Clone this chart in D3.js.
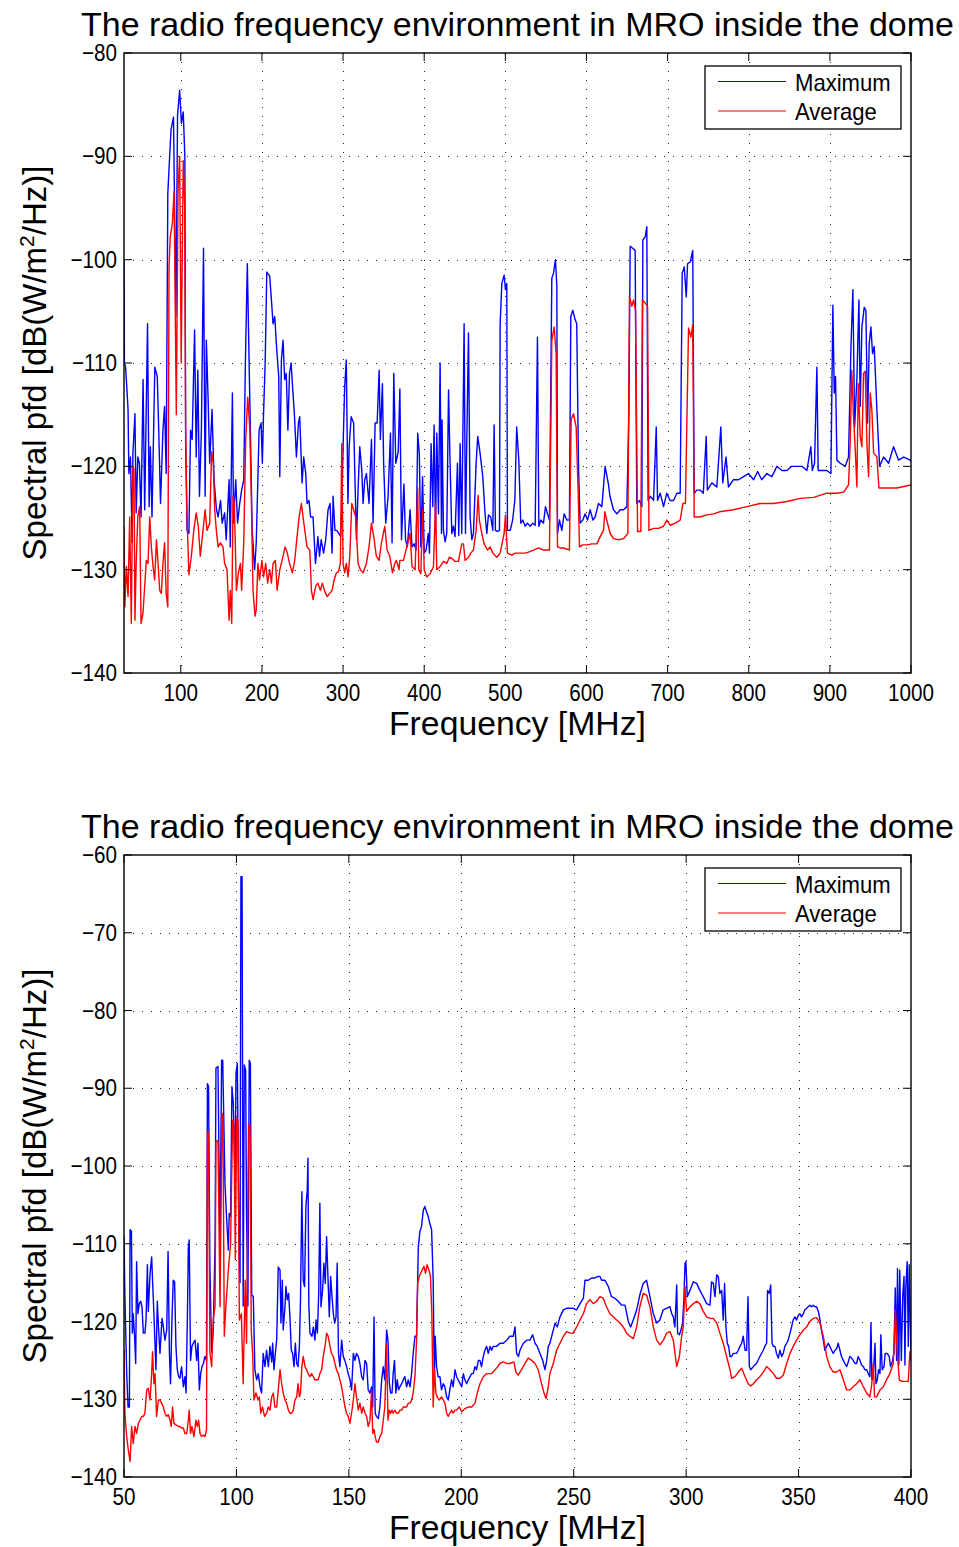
<!DOCTYPE html>
<html>
<head>
<meta charset="utf-8">
<script src="https://cdn.jsdelivr.net/npm/d3@7"></script>
<style>
body{margin:0;background:#fff;}
svg text{font-family:"Liberation Sans",Arial,sans-serif;fill:#000;}
</style>
</head>
<body>
<svg id="chart" width="959" height="1547"></svg>
<script>
// ---- data: [frequency MHz, spectral pfd dB] ----
var titleText = "The radio frequency environment in MRO inside the dome";
var seriesNames = ["Maximum", "Average"];

var topXTicks = [100, 200, 300, 400, 500, 600, 700, 800, 900, 1000];
var topYTicks = [-140, -130, -120, -110, -100, -90, -80];
var botXTicks = [50, 100, 150, 200, 250, 300, 350, 400];
var botYTicks = [-140, -130, -120, -110, -100, -90, -80, -70, -60];

var topMax = [[30,-100],[30.5,-110],[32,-110.4],[35,-114.5],[36,-120.7],[38,-119.1],[40,-127.4],[41,-118.7],[43.5,-114.9],[45,-124.5],[47,-119.1],[49,-119.7],[51,-124.9],[53.5,-111.6],[55.5,-124.2],[59,-106.2],[61,-123.9],[62.5,-118.1],[64.5,-124.9],[68,-110.4],[71,-111.3],[73,-117.1],[75,-123.6],[78,-116.5],[80,-114.2],[82,-120.7],[84,-93.6],[86,-90.4],[88,-87.4],[91,-86.2],[94,-105.5],[96,-86],[98.6,-83.6],[100.7,-86.8],[103,-85.7],[105,-90],[106,-117.8],[107.7,-126.2],[110,-126.5],[112,-116.5],[114,-117.4],[117,-106.8],[119,-119.1],[121,-110.7],[123,-122.9],[125.4,-116.5],[128,-98.9],[130,-122.9],[131.5,-107.8],[133.6,-113.3],[135.6,-119.7],[138.5,-114.5],[141,-121.3],[144,-124.2],[146,-124.9],[149,-123.3],[151,-125.5],[154,-124.5],[156,-127.1],[159.5,-121.3],[161,-127.8],[163.6,-112.9],[165,-125.5],[167.7,-121.3],[170,-125.5],[172.6,-123.6],[175,-122.3],[177.6,-121.3],[179.6,-110],[182,-100.4],[185,-113.3],[188,-126.2],[191,-130],[193,-127.4],[196.5,-116.5],[199,-115.8],[200.5,-119.7],[202,-114.9],[204,-110],[206,-101.2],[209.6,-101.6],[211.7,-103.9],[213.7,-106.2],[215.8,-105.5],[218,-108.4],[220.7,-111.3],[222,-121],[224,-109.7],[226,-107.8],[228,-111.6],[230,-111],[232,-116.5],[234,-111],[236,-110],[238,-112.6],[240,-114.9],[242.5,-119.1],[245,-115.8],[246.6,-115.2],[249.5,-121.6],[251.5,-119.1],[254,-120.7],[255.6,-123.6],[258,-123.3],[260,-124.9],[263,-124.9],[266,-129.4],[269,-126.8],[271,-128.7],[273,-127.1],[276,-128.4],[278.6,-127.1],[281.5,-124.2],[284,-123.6],[286.5,-128.4],[287.7,-122.9],[290,-126.2],[292,-126.2],[295,-126.5],[297,-126.8],[298.5,-123.9],[300,-118.1],[302,-112.3],[304,-109.7],[306,-123.6],[307.5,-118.1],[310,-115.2],[313,-115.8],[316.5,-127.1],[318.5,-122.3],[320.6,-118.1],[323,-120.3],[324.7,-123.6],[326.7,-121.3],[328.8,-120.7],[332,-123.6],[335,-117.4],[337,-125.5],[339.5,-115.8],[342,-115.8],[344.5,-110.7],[346,-117.4],[348.5,-112],[350,-119.7],[352.6,-125.5],[355.5,-122.9],[358.4,-116.8],[360.4,-127.4],[362.5,-111],[365,-119.7],[368,-118.6],[370,-112.5],[372,-127.1],[375,-121.7],[377,-127.1],[379.3,-127.8],[382.6,-124.2],[385,-127.8],[387.6,-127.5],[390,-128.1],[392,-116.8],[394,-118.8],[395.8,-127.8],[398,-121],[400,-128.4],[402.4,-128.1],[405,-126.5],[406.5,-128.4],[408.5,-117.8],[410.6,-123.9],[412.2,-116],[414,-126.5],[415.5,-116.8],[417.6,-124.6],[419.6,-110],[421.3,-126.5],[422,-115.5],[423.7,-126.2],[425.8,-127.3],[427.8,-126.5],[430,-112.6],[432,-120],[434,-126.5],[436,-125.8],[438,-126.8],[441,-119.7],[442.6,-126.7],[444.3,-117.8],[446.3,-126.5],[449.2,-106.2],[450.9,-126.5],[452.5,-117.5],[454.6,-107.1],[456.6,-124.9],[458.7,-127.1],[460.7,-126.5],[464,-119.7],[466,-117.1],[469,-118.8],[472.2,-121],[475,-124.6],[477.2,-126.5],[479.2,-124.7],[482,-124.9],[484.6,-126.2],[486.2,-116],[487.8,-126.2],[490.3,-126.3],[492.8,-126.2],[493.6,-106.2],[495.7,-102.3],[498.5,-101.5],[500.2,-102.9],[501.8,-102.3],[502.6,-126.2],[506,-126.2],[509,-125.2],[511.7,-123.3],[514,-116.2],[516.6,-119.4],[519,-125.5],[521.5,-125.2],[524.4,-125.8],[527.3,-125.5],[530.6,-125.8],[533.9,-125.5],[536.8,-125.7],[539.6,-107.5],[541.3,-125.8],[543.7,-125.2],[547,-125.5],[549.5,-123.9],[552,-124.6],[554.4,-125.2],[557.3,-101.8],[559.4,-101.3],[561.8,-100],[563.5,-102.6],[564.3,-126.5],[566.8,-125.2],[569.6,-126.2],[572.5,-124.6],[575.8,-125.2],[579,-125.2],[580.7,-105.5],[583.2,-104.9],[586,-105.8],[588,-106.2],[590.2,-120],[592.2,-125.5],[595.5,-125.2],[598.4,-124.6],[601.3,-125.2],[604.6,-124.2],[607.9,-125.2],[610.7,-124.9],[614.8,-123.6],[619,-123.9],[623,-120],[627,-121.7],[629,-122.9],[633.3,-124.2],[637.5,-124.6],[641.6,-124.2],[645.7,-124.2],[649.8,-123.9],[652.2,-115.2],[653.9,-98.7],[657,-98.9],[660,-99.1],[662,-123.6],[665.4,-123.3],[668.3,-123.9],[669.5,-98.1],[672.4,-97.8],[674.4,-96.8],[676,-123.3],[678.6,-122.9],[682.7,-123.3],[686,-116.2],[687.6,-123.3],[690.9,-122.6],[695,-123.9],[699,-122.6],[703,-123.3],[707.3,-123.3],[711.4,-122.6],[715.5,-122.6],[718,-101.3],[720.5,-100.7],[723,-103.6],[724.6,-100.4],[728,-100.2],[731,-99.1],[732.8,-122.6],[736,-122.3],[740,-122.3],[744,-122.6],[747.6,-117.1],[749,-122.3],[754.5,-121.6],[760.7,-122],[765.6,-116.2],[768,-121.6],[772,-119.1],[775,-122],[781,-121.3],[787.4,-121.3],[793.6,-121],[799.8,-120.7],[806,-121.3],[811,-120.5],[816,-121.3],[822.4,-120.7],[828.5,-121],[834.7,-120],[840.9,-120.4],[847,-120.4],[853,-120],[859.3,-120],[865.5,-120],[871.7,-120.4],[876.6,-118.1],[878.3,-120.4],[881.1,-119.7],[884,-110.4],[885.6,-120.4],[890,-120.4],[896.3,-120.4],[901.3,-120.7],[903.7,-104.4],[905.4,-112.9],[907,-111.3],[908.7,-119.4],[912.8,-119.7],[919,-120],[923,-119.1],[926,-108.4],[928.4,-102.9],[930.5,-116.2],[933.3,-111.6],[935.8,-103.9],[937.4,-114.2],[939.5,-106.5],[942.4,-104.6],[944.4,-104.9],[946.5,-115.8],[948.5,-108.1],[950.6,-106.5],[952.6,-109.1],[954.7,-108.4],[958,-114.6],[961.3,-120],[966.2,-119.1],[972.4,-119.7],[978.5,-118.1],[984.7,-119.4],[990.9,-119.1],[999,-119.4],[1000,-119.6]];

var topAvg = [[30,-125.8],[31,-133.6],[33,-129.7],[35,-132.6],[37,-124.9],[39,-135.2],[41,-120],[42.3,-120.3],[43.5,-134.9],[45,-129.4],[47,-124.9],[49.3,-123.9],[51,-135.2],[53.4,-134.2],[56,-131],[57.5,-129.1],[59.6,-129.4],[61.7,-124.9],[63.7,-127.8],[65.8,-129.7],[67.8,-131],[70,-127.1],[72,-129.4],[74,-132],[76,-132.3],[78,-129.4],[80,-127.4],[82,-132.3],[84,-133.6],[85.5,-100.7],[87,-97.8],[89.6,-96.5],[91.7,-93.4],[94.5,-115],[96.6,-93.3],[98.6,-90],[100.5,-110],[103,-90.4],[104.8,-94.7],[106,-116.5],[107.7,-124.9],[110,-130.5],[113,-128.7],[116,-126.2],[119,-124.5],[121.6,-125.8],[124,-128.7],[127.4,-126.2],[130,-124.2],[132.3,-126.2],[135.6,-125.5],[138,-118.6],[140,-119.7],[141.8,-124.2],[143.8,-126.2],[146,-127.8],[148.8,-127.4],[152,-127.8],[154,-129.4],[157,-130],[159.5,-134.9],[161,-132],[162.8,-135.2],[164.4,-122.9],[166,-123.6],[168.5,-132],[171,-130.3],[173.5,-129.4],[175,-132],[177.6,-127.4],[180,-117.4],[182.5,-113.3],[185,-116.2],[187,-123.3],[189,-132],[191.5,-134.5],[193,-133.9],[195,-129.4],[197,-131],[200,-129.1],[202,-130.7],[204.7,-129.4],[207,-131.3],[209.6,-130],[211.7,-131.3],[213.7,-129.4],[216.6,-129.1],[218.7,-132],[222,-130],[224.8,-129.1],[226.9,-128.4],[228.5,-127.8],[231,-128.3],[234,-129.4],[237.6,-130.3],[240.4,-129.1],[243.3,-126.8],[245.8,-124.9],[248.7,-123.6],[250.7,-124.9],[252.8,-126.2],[255.6,-127.8],[259,-128.1],[261,-132],[263,-132.9],[266.3,-131.6],[269,-131.3],[272,-132],[274.5,-131.3],[277.4,-132.1],[280.3,-132.6],[283.6,-132.3],[286.5,-132],[289,-131],[291.8,-130.3],[294.3,-130.2],[296.7,-129.4],[298.4,-117.8],[300,-129.4],[302,-130.3],[304,-129.4],[306.2,-130.7],[308.3,-128.7],[310.7,-123.6],[313,-124.2],[315.6,-124.9],[318.5,-129.4],[321.4,-130],[324.7,-130.3],[328.8,-129.4],[332,-127.8],[335,-125.5],[337.8,-126.8],[341,-128.7],[344.4,-129.1],[347.3,-127.4],[351.4,-125.8],[354.3,-128.1],[357.6,-128.7],[360.9,-130.3],[363.7,-129.4],[365.8,-129.1],[369,-130],[370,-129.1],[374.4,-129.1],[378.5,-127.8],[382.6,-126.5],[385,-129.7],[388.8,-130],[392,-122.1],[393.3,-130],[395.8,-130.4],[398.2,-124.2],[400,-130],[403,-130.7],[407.3,-130.4],[411.4,-129.7],[414,-123.6],[415.5,-130],[419.6,-129.7],[423.7,-129.2],[427.8,-129.4],[431,-128.8],[434,-128.9],[438,-129.2],[442.2,-129.2],[446.3,-127.5],[448.4,-127.5],[450.4,-129.1],[454.6,-128.8],[457.4,-128.4],[460.7,-128.1],[464,-126.2],[466.5,-122.8],[468,-125.2],[471,-126.5],[473.9,-127.5],[478,-128.1],[481.3,-127.8],[484.6,-128.4],[489.5,-128.8],[493.6,-128.4],[498.5,-126.5],[500.2,-124.7],[502.6,-128.4],[508,-128.6],[512.1,-128.4],[518.3,-128.4],[524.4,-128.4],[528.5,-128.3],[534.7,-128.1],[540.9,-127.9],[547,-128.1],[554.4,-128.1],[557.3,-107.8],[560.2,-106.5],[562.6,-109.1],[564.3,-127.8],[567.6,-127.9],[571.7,-127.9],[579,-128.1],[581.1,-115.5],[584,-114.9],[587.3,-116.2],[589.8,-122.6],[591.4,-127.8],[595.5,-127.6],[600.5,-127.6],[606.6,-127.5],[612.8,-127.5],[616.9,-126.8],[621,-126.2],[622.7,-124.4],[625,-125.2],[629.2,-126.5],[633.3,-127],[639.5,-127.1],[645.7,-127],[651,-126.5],[653,-103.6],[656,-104.5],[658,-103.9],[660.5,-104.9],[663,-126.3],[667,-126.3],[669,-103.9],[672.4,-104.2],[675.3,-104.5],[677,-126.2],[682.7,-126],[688.8,-126],[695,-125.8],[699,-125.2],[703.2,-125.7],[709.4,-125.5],[715.5,-125.2],[718.8,-123.6],[722,-123.6],[725.8,-106.6],[728.7,-107.5],[731,-106.3],[732.8,-124.9],[740,-124.9],[748.4,-124.7],[756.6,-124.6],[764,-124.4],[781,-124.2],[797.7,-123.9],[814,-123.6],[830.6,-123.6],[847,-123.4],[863.5,-123.1],[880,-123],[896.3,-122.6],[908.7,-122.6],[917,-122.5],[923,-121.8],[925,-117.8],[927,-110.7],[929,-114.9],[931.3,-118.4],[933.3,-122],[935,-112],[937.4,-117.1],[939.5,-118.1],[941.5,-111],[943.6,-110.8],[945.7,-117.8],[947.7,-121],[949.8,-112.9],[951.8,-114.6],[953.9,-118.7],[958,-119.1],[960.5,-122.1],[970.3,-122.1],[982.7,-122.1],[1000,-121.8]];

var botMax = [[50,-109.1],[50.4,-116.8],[51.2,-126.7],[51.8,-131],[52.4,-131],[52.7,-108.2],[53.3,-108.4],[53.7,-121.5],[54.1,-119],[54.7,-121.9],[55.2,-125.4],[55.6,-112.3],[56.2,-119],[56.8,-117.7],[57.4,-117.4],[58,-118.1],[58.6,-121.5],[59.3,-121.5],[59.8,-119.8],[60.4,-112.7],[60.8,-118.7],[61.6,-113.8],[62.3,-111.7],[62.7,-114.7],[63.3,-119],[64.2,-126.2],[64.8,-117.4],[65.4,-121.1],[66,-124.1],[66.9,-119.6],[67.5,-120.7],[68.2,-122.4],[69,-121.1],[69.6,-111],[70.2,-124.1],[70.7,-128],[71.3,-120],[71.9,-114.7],[72.5,-114.9],[73.1,-123.2],[73.7,-126.2],[74.3,-127.1],[74.9,-127.3],[75.6,-125.8],[76.4,-128.4],[77.1,-127.1],[77.6,-129.2],[78.2,-119.4],[78.6,-110.6],[79,-109.5],[79.6,-125],[80.2,-123.2],[80.8,-122.8],[81.6,-122.4],[82.3,-125],[82.9,-122.8],[83.5,-128.8],[84.1,-126.7],[84.7,-125.8],[85.3,-125.4],[86,-124.5],[86.7,-125],[87.1,-89.4],[87.6,-89.8],[88.2,-113],[89,-124],[89.7,-121],[90.5,-110],[90.9,-87.4],[91.8,-87.2],[92.7,-110.8],[93.4,-86.4],[93.9,-86.4],[94.9,-102.2],[95.6,-106.5],[96.4,-110.8],[96.8,-106.1],[97.4,-106.5],[98,-89.8],[98.6,-91.9],[99.4,-102.2],[99.8,-88.1],[100.4,-86.8],[101,-106.5],[101.6,-115],[102,-62.8],[102.5,-62.8],[103,-118],[103.5,-87],[104.1,-87.7],[104.5,-106.5],[105.1,-118],[105.7,-86.4],[106.2,-86.8],[106.8,-116.6],[107.5,-116.8],[108.2,-126.2],[109,-127.5],[109.7,-126.7],[110.5,-128.4],[111.2,-129.2],[111.9,-124.1],[112.7,-125.8],[113.4,-123.7],[114.2,-125.8],[114.9,-123.2],[115.7,-125.2],[116.1,-122.8],[116.7,-126.2],[117.3,-124.1],[117.9,-122.4],[118.6,-113],[119.4,-113.4],[119.8,-120.2],[120.4,-114.7],[120.8,-121.1],[121.6,-118.1],[122,-115.5],[122.6,-117.2],[123.2,-116.4],[123.8,-119.4],[124.4,-123.7],[125,-124.1],[125.6,-125.8],[126.2,-122.8],[126.8,-125.4],[127.4,-125.8],[128,-123.2],[128.5,-117.2],[129.1,-103.3],[129.7,-114.7],[130.3,-115.5],[130.9,-105.2],[131.5,-103.1],[131.8,-99],[132.2,-118],[132.7,-121.5],[133.6,-121.9],[134.2,-120.7],[134.9,-122.4],[135.4,-119.8],[136,-121.5],[136.6,-116.4],[137.1,-104.8],[137.6,-118.1],[138.3,-116],[138.9,-112.5],[139.5,-115.1],[140.1,-109.1],[140.7,-114.2],[141.3,-119.4],[141.9,-114.2],[142.5,-116.8],[143.1,-119],[143.7,-120.2],[144.3,-119.4],[144.8,-112.5],[145.4,-124.1],[146,-125.8],[146.8,-122.4],[147.5,-124.5],[148.2,-125],[149,-125.8],[149.7,-126.7],[150.5,-127.5],[151.2,-128.8],[152,-124.1],[152.7,-125],[153.4,-124.1],[154.2,-124.5],[154.9,-125.4],[155.7,-127.1],[156.4,-127.5],[157.2,-125],[157.9,-125.4],[158.6,-128.8],[159.4,-129.2],[160.1,-128.4],[160.6,-131],[161.2,-119.4],[161.7,-131.8],[162.3,-132.2],[163.1,-132.5],[163.8,-131],[164.6,-127.5],[165.3,-125.8],[166,-127.5],[166.8,-121.1],[167.4,-122.4],[168,-128],[168.6,-129.2],[169.2,-129.2],[169.7,-126.7],[170.3,-125],[170.9,-129.2],[171.5,-127.5],[172.1,-128.8],[172.7,-128.4],[173.5,-128],[174.2,-127.5],[174.9,-127.1],[175.7,-128.4],[176.4,-127.5],[177.2,-128.4],[177.9,-126.7],[178.6,-124.1],[179.4,-121.9],[180.1,-121.9],[180.9,-110.4],[181.6,-108.4],[182.3,-107.8],[183.1,-105.7],[183.8,-105.2],[184.5,-105.9],[185.3,-106.5],[186,-107.4],[186.8,-108.2],[187.5,-114.7],[188,-127.5],[188.4,-121.9],[189,-125.8],[189.7,-127.1],[190.5,-127.1],[191.2,-128.8],[192,-128],[192.7,-128.4],[193.5,-129.7],[194.2,-130.1],[194.9,-128.8],[195.7,-127.5],[196.4,-128.4],[197.2,-126.2],[197.9,-127.1],[200.2,-128.4],[200.9,-126.7],[201.6,-127.5],[202.4,-128],[203.1,-127.5],[203.9,-127.1],[204.6,-126.7],[205.3,-126.7],[206.1,-125.8],[206.8,-126.2],[207.6,-125],[208.3,-125],[209,-125.8],[209.8,-124.5],[210.5,-123.7],[211.3,-123.2],[212,-124.1],[212.8,-123.2],[213.5,-123.7],[214.2,-123.2],[215.7,-123.2],[217.2,-122.8],[218.7,-122.8],[220.2,-122.4],[221.6,-121.9],[223.1,-121.9],[223.9,-120.7],[224.6,-124.1],[225.4,-124.5],[226.1,-123.7],[227.6,-122.8],[229.1,-122.4],[230.5,-122.4],[231.7,-121.7],[232.8,-122.8],[233.8,-123.2],[235,-124.1],[236.2,-125],[237.2,-126.2],[238,-125],[238.7,-123.2],[239.4,-122.8],[240.9,-121.1],[241.7,-120.2],[242.7,-120.7],[243.9,-119.4],[245.4,-118.5],[246.8,-118.3],[248.3,-118.3],[249.8,-118.3],[251.3,-118.5],[252.8,-117.7],[254.3,-117],[255,-114.7],[256.5,-114.7],[258,-114.4],[259.4,-114.4],[260.9,-114.2],[261.7,-114.2],[262.4,-114.7],[263.9,-114.7],[265.4,-115.5],[266.8,-116.8],[268.3,-117],[269.8,-117.4],[271.3,-117.9],[272.8,-117.9],[274.3,-120],[275.3,-120.7],[276.5,-119.8],[278,-118.5],[279.4,-116.6],[280.9,-115.1],[282.4,-114.7],[283.9,-116.8],[285.4,-119],[286.9,-120.2],[288.3,-119.8],[289.8,-118.5],[291.3,-118.3],[292.8,-118.1],[293.6,-119],[294.3,-119.4],[295,-120.7],[295.8,-115.3],[296.2,-121.5],[297,-121.7],[297.7,-121.1],[298.4,-120.2],[299,-117.2],[299.5,-112.5],[299.9,-112.3],[300.5,-116.8],[301.7,-116],[303.2,-114.9],[304.7,-115.1],[306.1,-116],[307.6,-116.8],[309.1,-117.7],[310.6,-117.9],[311.3,-114.9],[312.1,-115.1],[312.8,-116.8],[313.6,-114],[314.3,-114.2],[315,-116.4],[315.8,-116],[316.5,-119.8],[317.1,-115.1],[317.7,-120.7],[318.3,-122.8],[318.9,-123.2],[319.5,-124.5],[320.2,-124.5],[321,-124.1],[321.7,-124.1],[322.4,-124.1],[323.2,-123.7],[323.9,-123.2],[324.7,-122.8],[325.4,-121.9],[326.2,-123.7],[326.9,-123.7],[327.5,-116.8],[328.1,-125.8],[328.7,-126.2],[329.9,-125.8],[331.3,-125.4],[332.8,-124.5],[334.3,-123.7],[335,-123.2],[335.8,-122.8],[336.2,-116],[337,-116.4],[337.6,-115.3],[338.2,-122.8],[338.8,-123.2],[339.5,-123.2],[340.2,-124.1],[341,-124.7],[341.7,-123.7],[342.5,-124.5],[343.2,-124.1],[343.9,-123.2],[344.7,-122.8],[345.4,-122.4],[346.2,-121.5],[346.9,-120.7],[347.6,-119.8],[348.4,-119.4],[349.1,-119.8],[349.9,-119.2],[350.6,-119],[351.3,-119.4],[352.1,-119],[352.8,-118.5],[353.6,-118.3],[354.3,-118.1],[355,-117.9],[355.8,-118.1],[356.5,-117.9],[357.3,-118.1],[358,-118.1],[358.8,-118.7],[359.5,-119.8],[360.2,-121.1],[361,-122.4],[361.7,-123.7],[362.5,-123.2],[363.2,-122.8],[363.9,-123.2],[364.7,-123.7],[365.4,-124.1],[366.2,-123.7],[366.9,-123.5],[367.6,-122.8],[368.4,-123.7],[369.1,-124.5],[369.9,-125],[370.6,-125.4],[371.4,-125.8],[372.1,-125.2],[372.8,-124.5],[373.6,-124.7],[374.3,-125],[375.1,-125.4],[375.8,-125.4],[376.5,-124.5],[377.3,-125],[378,-125.6],[378.8,-125.8],[379.5,-126.2],[380.3,-126.2],[381,-126.7],[381.7,-127.1],[382.2,-120.2],[382.6,-127.5],[383.2,-127.1],[384,-122.8],[384.4,-128],[385,-127.5],[385.6,-126.2],[386.2,-126.7],[386.6,-121.7],[387.2,-126.2],[388,-125.8],[388.5,-124.1],[389.4,-124.1],[390.3,-124.5],[390.9,-125.8],[391.8,-125],[392.4,-124.1],[393,-115.7],[393.6,-125],[394,-113.2],[394.6,-125.6],[395,-113.4],[395.7,-125],[396.3,-116.8],[396.9,-114.2],[397.3,-125.6],[397.7,-115.5],[398.3,-112.3],[398.8,-123.2],[399.2,-112.7],[399.8,-121.9],[400,-124]];

var botAvg = [[50,-123.7],[50.4,-131.8],[51.2,-134.8],[51.9,-136.5],[52.7,-138],[53.4,-133.5],[54.1,-135.7],[54.9,-133.5],[55.6,-134.4],[56.4,-133.1],[57.1,-132.7],[57.9,-132.2],[58.6,-132.2],[59.3,-131.8],[60.1,-128.8],[60.8,-128.6],[61.6,-130.1],[62.3,-126.7],[62.7,-123.9],[63.3,-128],[63.8,-126.7],[64.5,-132.2],[65.3,-130.1],[66,-130.1],[66.7,-130.5],[67.5,-131],[68.2,-131.8],[69,-132.2],[69.7,-132],[70.5,-132.7],[71,-133.5],[71.6,-131],[72.2,-133.1],[73.1,-133.3],[74.2,-133.5],[74.9,-133.5],[75.6,-133.7],[76.4,-133.7],[77.1,-134.4],[77.9,-134.4],[78.6,-132.7],[79,-131.4],[79.6,-134.4],[80.2,-133.5],[81.1,-134.8],[82,-132.7],[82.6,-133.5],[83.2,-132.7],[83.8,-134.4],[84.5,-134.8],[85.3,-134.6],[86,-134.8],[86.7,-133.9],[87.1,-95.6],[87.6,-95.8],[88.2,-124],[89,-125.8],[89.7,-119.8],[90.5,-118],[90.9,-96.9],[91.8,-96.7],[92.7,-118.1],[93.6,-93.2],[94,-93.7],[94.6,-121.9],[95.3,-118.1],[96.4,-113.4],[97.4,-110],[98.3,-94.1],[98.9,-94.5],[99.5,-112],[100.1,-93.9],[100.7,-94.1],[101.3,-119.8],[102.2,-119],[103,-128],[103.9,-114.7],[104.5,-122.8],[105.4,-94.7],[106,-94.7],[106.6,-121.1],[107.2,-124.1],[107.8,-130.1],[108.7,-129.2],[109.6,-130.1],[110.2,-129.7],[110.8,-131.8],[111.6,-131],[112.5,-132.2],[113.4,-131.8],[114.2,-131],[114.9,-131.4],[115.7,-129.7],[116.4,-129.2],[117.1,-131],[117.9,-131],[118.6,-128.8],[119.4,-126.2],[120.1,-128],[120.8,-129.2],[121.6,-130.1],[122.3,-130.5],[123.1,-131.4],[123.8,-131.8],[124.5,-131.8],[125.3,-131.4],[126,-130.1],[126.8,-129.7],[127.4,-128],[128,-129.7],[128.5,-129.2],[129.1,-125.8],[129.7,-124.5],[130.5,-125.8],[131.2,-126.2],[131.9,-126.7],[132.7,-127.1],[133.4,-126.7],[134.2,-127.1],[134.9,-127.5],[135.7,-127.5],[136.4,-127.5],[137.1,-126.7],[137.9,-126.2],[138.6,-124.5],[139.4,-123.2],[140.1,-121.5],[140.8,-121.9],[141.6,-123.2],[142.3,-124.1],[143.1,-124.5],[143.8,-125.4],[144.5,-126.2],[145.3,-126.7],[146,-127.5],[146.8,-128.4],[147.5,-129.7],[148.3,-131],[149,-131.8],[149.7,-132.2],[150.5,-133.1],[151.2,-131.8],[152,-130.1],[152.7,-128],[153.4,-129.7],[154.2,-131.4],[154.9,-130.5],[155.7,-131.8],[156.4,-131],[157.2,-131.8],[157.9,-132.2],[158.6,-133.5],[159.4,-132.7],[160.1,-128.8],[160.6,-134.4],[161.2,-133.9],[161.7,-134.8],[162.3,-135.5],[163.1,-135.5],[163.8,-134.8],[164.6,-134.4],[165.3,-132.7],[166,-131],[166.8,-123],[167.4,-132.7],[168,-131.4],[168.6,-131.8],[169.2,-131.4],[169.7,-131.8],[170.5,-131.4],[171.2,-131.8],[172,-131.8],[172.7,-131.4],[173.5,-131.4],[174.2,-131],[174.9,-131],[175.7,-131],[176.4,-130.5],[177.2,-130.5],[177.9,-130.1],[178.6,-129.2],[179.4,-127.1],[180.1,-122.4],[180.6,-115.1],[181.3,-114.2],[181.9,-113.8],[182.6,-113.4],[183.4,-112.9],[184.1,-113.8],[184.8,-112.7],[185.6,-113.4],[186.3,-114.2],[186.9,-119],[187.5,-131],[188.1,-126.2],[188.7,-129.2],[189.3,-129.7],[190.2,-130.1],[191.2,-129.7],[192,-130.1],[192.7,-130.5],[193.5,-131.8],[194.2,-132.2],[194.9,-131.8],[195.7,-131.4],[196.4,-131.8],[197.2,-131.4],[197.9,-131.4],[199.1,-131],[200.2,-131.6],[201.6,-131.2],[203.1,-131],[204.6,-131],[206.1,-130.5],[207.1,-129.2],[208.3,-128],[209.8,-127.1],[211.3,-126.7],[213.5,-126.7],[215.7,-126],[217.2,-125.4],[218.7,-125.2],[220.2,-125.4],[221.6,-125.4],[223.4,-125.2],[224.3,-126.5],[225.3,-126.9],[226.8,-126.2],[228.3,-125.4],[229.8,-124.7],[231.3,-125],[232.8,-125.4],[234.2,-126.2],[235.7,-128],[236.8,-129.2],[237.7,-129.9],[238.7,-128.4],[239.4,-126.7],[240.9,-125.4],[242.4,-123.7],[243.9,-122.8],[245.4,-121.9],[246.8,-121.3],[248.3,-121.5],[249.8,-121.5],[251.3,-120.7],[252.8,-119.8],[254.3,-119],[255.7,-117.7],[257.2,-117.2],[258.7,-117.7],[260.2,-117.4],[261.7,-116.8],[263.1,-117],[264.6,-118.1],[266.1,-119],[267.6,-119.4],[269.1,-119.8],[270.6,-120.2],[272,-120.7],[273.5,-121.5],[275,-121.9],[276.5,-122.2],[278,-120.7],[279.4,-118.1],[280.9,-116.4],[282.4,-116.6],[283.9,-118.1],[285.4,-120.7],[286.9,-122.4],[288.4,-123],[289.9,-122.4],[291.3,-121.5],[292.8,-121.3],[294.3,-122.4],[295.8,-125.8],[297,-124.5],[298,-121.9],[298.7,-120.7],[299.5,-115.5],[300.2,-118.7],[301.7,-118.1],[303.2,-117.7],[304.7,-117.4],[306.1,-117.7],[307.6,-118.7],[309.1,-119.4],[310.6,-119.6],[312.1,-119.6],[313.6,-120.2],[315,-121.5],[316.5,-122.8],[318,-124.5],[319.5,-126.2],[320.2,-127.3],[321.7,-127.1],[323.2,-126.5],[324.7,-126],[326.2,-127.1],[327.6,-128],[328.7,-128.3],[329.9,-128],[331.3,-127.5],[332.8,-127.1],[334.3,-126.5],[335.8,-125.8],[337.3,-126.2],[338.8,-126.7],[340.2,-127.3],[341.7,-127.3],[343.2,-126.9],[344.7,-125.4],[346.2,-124.1],[347.6,-123.2],[349.1,-122.4],[350.6,-121.7],[352.1,-121.1],[353.6,-120.7],[355,-120],[356.5,-119.6],[358,-119.5],[359.5,-120.2],[361,-121.9],[362.5,-124.5],[363.9,-125.8],[365.4,-126.5],[366.9,-126.5],[368.4,-126.2],[369.9,-127.5],[371.4,-128.8],[372.8,-128.8],[374.3,-128.4],[375.8,-128],[377.3,-127.5],[378.8,-128.4],[380.3,-129.2],[381.7,-129.7],[382.5,-128.2],[383.2,-125.4],[383.8,-129.7],[384.7,-129.7],[386.2,-128.8],[387.7,-128.4],[389.1,-127.5],[390.6,-126.7],[392.1,-125.4],[393.1,-118.5],[393.9,-124.1],[394.8,-127.5],[395.8,-127.7],[397.3,-127.7],[398.8,-127.7],[399.5,-123.9],[400,-125]];

var svg = d3.select("#chart");
var L = 124, R = 911;

function fmt(d) { return d < 0 ? "\u2212" + Math.abs(d) : String(d); }

// narrow the glyphs a little, the original font is condensed
function squish(sel, k) {
  sel.each(function() {
    var w = this.getComputedTextLength();
    d3.select(this).attr("textLength", w * k).attr("lengthAdjust", "spacingAndGlyphs");
  });
}

function panel(o) {
  var g = svg.append("g");
  var x = d3.scaleLinear().domain(o.xDomain).range([L, R]);
  var y = d3.scaleLinear().domain(o.yDomain).range([o.bottom, o.top]);
  var clipId = "clip" + o.id;

  g.append("clipPath").attr("id", clipId).append("rect")
    .attr("x", L).attr("y", o.top).attr("width", R - L).attr("height", o.bottom - o.top);

  // dotted grid
  var grid = g.append("g").attr("stroke", "#222").attr("stroke-width", 1).attr("stroke-dasharray", "1,8");
  grid.selectAll(".gx").data(o.xTicks.filter(function(d) { return d > o.xDomain[0] && d < o.xDomain[1]; }))
    .join("line").attr("x1", function(d) { return Math.round(x(d)) + 0.5; }).attr("x2", function(d) { return Math.round(x(d)) + 0.5; })
    .attr("y1", o.top).attr("y2", o.bottom);
  grid.selectAll(".gy").data(o.yTicks.filter(function(d) { return d > o.yDomain[0] && d < o.yDomain[1]; }))
    .join("line").attr("y1", function(d) { return Math.round(y(d)) + 0.5; }).attr("y2", function(d) { return Math.round(y(d)) + 0.5; })
    .attr("x1", L).attr("x2", R);

  // traces
  var line = d3.line().x(function(d) { return x(d[0]); }).y(function(d) { return y(d[1]); });
  var plot = g.append("g").attr("clip-path", "url(#" + clipId + ")").attr("fill", "none").attr("stroke-width", 1.4)
    .attr("stroke-linejoin", "round");
  plot.append("path").datum(o.maxData).attr("d", line).attr("stroke", "#0000ff");
  plot.append("path").datum(o.avgData).attr("d", line).attr("stroke", "#ff0000");

  // box + inward ticks
  g.append("rect").attr("x", L).attr("y", o.top).attr("width", R - L).attr("height", o.bottom - o.top)
    .attr("fill", "none").attr("stroke", "#000").attr("stroke-width", 1.4);
  var tk = g.append("g").attr("stroke", "#000").attr("stroke-width", 1);
  o.xTicks.forEach(function(d) {
    tk.append("line").attr("x1", x(d)).attr("x2", x(d)).attr("y1", o.bottom).attr("y2", o.bottom - 8);
    tk.append("line").attr("x1", x(d)).attr("x2", x(d)).attr("y1", o.top).attr("y2", o.top + 8);
  });
  o.yTicks.forEach(function(d) {
    tk.append("line").attr("x1", L).attr("x2", L + 8).attr("y1", y(d)).attr("y2", y(d));
    tk.append("line").attr("x1", R).attr("x2", R - 8).attr("y1", y(d)).attr("y2", y(d));
  });

  // tick labels
  var xl = g.append("g").selectAll("text").data(o.xTicks).join("text")
    .attr("x", function(d) { return x(d); }).attr("y", o.bottom + 28)
    .attr("text-anchor", "middle").style("font-size", "24px").text(fmt);
  squish(xl, 0.86);
  var yl = g.append("g").selectAll("text").data(o.yTicks).join("text")
    .attr("x", 117).attr("y", function(d) { return y(d) + 8; })
    .attr("text-anchor", "end").style("font-size", "24px").text(fmt);
  squish(yl, 0.86);

  // title and axis labels
  g.append("text").attr("x", (L + R) / 2).attr("y", o.top - 17).attr("text-anchor", "middle")
    .style("font-size", "33px").attr("textLength", 873).attr("lengthAdjust", "spacingAndGlyphs").text(titleText);
  g.append("text").attr("x", (L + R) / 2).attr("y", o.bottom + 62).attr("text-anchor", "middle")
    .style("font-size", "33px").attr("textLength", 257).attr("lengthAdjust", "spacingAndGlyphs").text("Frequency [MHz]");
  var yt = g.append("text").attr("transform", "translate(46," + ((o.top + o.bottom) / 2) + ") rotate(-90)")
    .attr("text-anchor", "middle").style("font-size", "33px");
  yt.append("tspan").text("Spectral pfd [dB(W/m");
  yt.append("tspan").attr("dy", -12).style("font-size", "21px").text("2");
  yt.append("tspan").attr("dy", 12).text("/Hz)]");

  // legend
  var lg = g.append("g").attr("transform", "translate(705," + (o.top + 13) + ")");
  lg.append("rect").attr("width", 196).attr("height", 63).attr("fill", "#fff").attr("stroke", "#000").attr("stroke-width", 1.3);
  [["#0000ff", 15.5], ["#ff0000", 45]].forEach(function(c, i) {
    lg.append("line").attr("x1", 13).attr("x2", 81).attr("y1", c[1]).attr("y2", c[1]).attr("stroke", c[0]).attr("stroke-width", 1.2);
    var t = lg.append("text").attr("x", 90).attr("y", c[1] + 9).style("font-size", "24px").text(seriesNames[i]);
    squish(t, 0.92);
  });
}

panel({ id: 1, top: 53, bottom: 673, xDomain: [30, 1000], yDomain: [-140, -80],
  xTicks: topXTicks, yTicks: topYTicks, maxData: topMax, avgData: topAvg });
panel({ id: 2, top: 855, bottom: 1477, xDomain: [50, 400], yDomain: [-140, -60],
  xTicks: botXTicks, yTicks: botYTicks, maxData: botMax, avgData: botAvg });
</script>
</body>
</html>
